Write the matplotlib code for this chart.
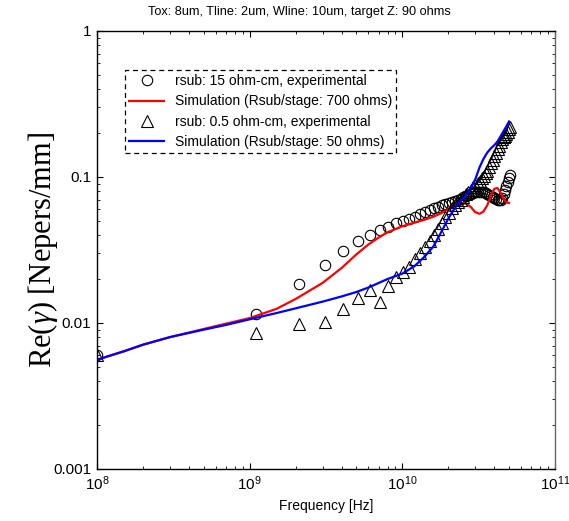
import matplotlib
matplotlib.use("Agg")
import matplotlib.pyplot as plt
from matplotlib.ticker import FixedLocator, FixedFormatter, LogLocator, NullFormatter

# measured points, frequency in GHz
meas_freq_ghz = [0.1, 1.1, 2.1, 3.1, 4.1, 5.1, 6.1, 7.1, 8.1, 9.1,
                 10.1, 11.1, 12.1, 13.1, 14.1, 15.1, 16.1, 17.1, 18.1, 19.1,
                 20.1, 21.1, 22.1, 23.1, 24.1, 25.1, 26.1, 27.1, 28.1, 29.1,
                 30.1, 31.1, 32.1, 33.1, 34.1, 35.1, 36.1, 37.1, 38.1, 39.1,
                 40.1, 41.1, 42.1, 43.1, 44.1, 45.1, 46.1, 47.1, 48.1, 49.1,
                 50.1, 51.1]

rsub15_meas = [0.0060, 0.0115, 0.0184, 0.0251, 0.0310, 0.0365, 0.0401, 0.0434, 0.0457, 0.0482,
               0.0500, 0.0516, 0.0530, 0.0555, 0.0575, 0.0594, 0.0610, 0.0625, 0.0640, 0.0652,
               0.0664, 0.0676, 0.0688, 0.0700, 0.0712, 0.0725, 0.0738, 0.0750, 0.0762, 0.0775,
               0.0785, 0.0790, 0.0795, 0.0795, 0.0790, 0.0782, 0.0770, 0.0755, 0.0740, 0.0728,
               0.0715, 0.0705, 0.0697, 0.0693, 0.0698, 0.0720, 0.0760, 0.0810, 0.0870, 0.0930,
               0.0990, 0.1040]

rsub05_meas = [0.0060, 0.0086, 0.0099, 0.0101, 0.0125, 0.0148, 0.0168, 0.0139, 0.0180, 0.0206,
               0.0225, 0.0243, 0.0275, 0.0300, 0.0330, 0.0365, 0.0400, 0.0440, 0.0485, 0.0530,
               0.0570, 0.0610, 0.0645, 0.0675, 0.0700, 0.0730, 0.0760, 0.0790, 0.0820, 0.0850,
               0.0880, 0.0910, 0.0945, 0.0980, 0.1020, 0.1060, 0.1100, 0.1170, 0.1240, 0.1310,
               0.1400, 0.1470, 0.1550, 0.1640, 0.1730, 0.1820, 0.1880, 0.1920, 0.1970, 0.2040,
               0.2120, 0.2200]

# simulated curves
sim_freq_ghz = [0.1, 0.15, 0.2, 0.3, 0.5, 0.7, 1.0, 1.5, 2.0, 3.0,
                4.0, 5.0, 6.0, 7.0, 8.0, 10, 12, 14, 16, 18,
                20, 22, 24, 26, 28, 30, 32, 34, 36, 38,
                40, 42, 44, 46, 48, 50]

sim_700 = [0.0056, 0.0064, 0.0071, 0.0080, 0.0091, 0.0099, 0.0108, 0.0125, 0.0146, 0.0188,
           0.0238, 0.0295, 0.0345, 0.0385, 0.0418, 0.0460, 0.0487, 0.0510, 0.0535, 0.0565,
           0.0605, 0.0645, 0.0665, 0.0660, 0.0625, 0.0575, 0.0560, 0.0580, 0.0640, 0.0740,
           0.0830, 0.0840, 0.0780, 0.0710, 0.0670, 0.0665]

sim_50 = [0.0056, 0.0064, 0.0071, 0.0080, 0.0090, 0.0097, 0.0106, 0.0117, 0.0126, 0.0140,
          0.0152, 0.0163, 0.0175, 0.0188, 0.0200, 0.0218, 0.0245, 0.0285, 0.0335, 0.0420,
          0.0520, 0.0610, 0.0680, 0.0740, 0.0840, 0.0960, 0.1160, 0.1330, 0.1470, 0.1570,
          0.1650, 0.1750, 0.1900, 0.2060, 0.2220, 0.2400]

y_ticks = [0.001, 0.01, 0.1, 1]
y_tick_labels = ["0.001", "0.01", "0.1", "1"]

plt.rcParams["font.family"] = ["Liberation Sans", "DejaVu Sans"]
plt.rcParams["mathtext.fontset"] = "custom"
plt.rcParams["mathtext.rm"] = "Liberation Sans"
plt.rcParams["mathtext.it"] = "Liberation Serif:italic"


def ghz(vals):
    return [v * 1e9 for v in vals]


fig = plt.figure(figsize=(5.69, 5.21), dpi=100)
ax = fig.add_axes([97 / 569, 52 / 521, 458 / 569, 438 / 521])

ax.plot(ghz(meas_freq_ghz), rsub15_meas, "o", mfc="none", mec="black", mew=0.8, ms=7.5,
        label="rsub: 15 ohm-cm, experimental")
ax.plot(ghz(sim_freq_ghz), sim_700, "-", color="#ff0000", lw=1.6,
        label="Simulation (Rsub/stage: 700 ohms)")
ax.plot(ghz(meas_freq_ghz), rsub05_meas, "^", mfc="none", mec="black", mew=0.8, ms=8,
        label="rsub: 0.5 ohm-cm, experimental")
ax.plot(ghz(sim_freq_ghz), sim_50, "-", color="#0000ff", lw=1.6,
        label="Simulation (Rsub/stage: 50 ohms)")

ax.set_xscale("log")
ax.set_yscale("log")
ax.set_xlim(1e8, 1e11)
ax.set_ylim(1e-3, 1)

ax.yaxis.set_major_locator(FixedLocator(y_ticks))
ax.yaxis.set_major_formatter(FixedFormatter(y_tick_labels))
ax.yaxis.set_minor_locator(LogLocator(base=10, subs=range(2, 10)))
ax.yaxis.set_minor_formatter(NullFormatter())
ax.xaxis.set_minor_locator(LogLocator(base=10, subs=range(2, 10)))
ax.xaxis.set_minor_formatter(NullFormatter())

ax.tick_params(which="both", direction="in", top=True, right=True, labelsize=11, pad=4)
ax.tick_params(which="major", length=4.5)
ax.tick_params(which="minor", length=2.5)
for sp in ax.spines.values():
    sp.set_linewidth(1.0)
ax.spines["right"].set_color("#666666")

ax.set_xlabel("Frequency [Hz]", fontsize=10, labelpad=4)
ax.set_ylabel(r"Re($\gamma$) [Nepers/mm]", fontsize=22, family="Liberation Serif")
ax.yaxis.set_label_coords(-0.08, 0.5)

fig.text(299 / 569, 1 - 12 / 521, "Tox: 8um, Tline: 2um, Wline: 10um, target Z: 90 ohms",
         ha="center", va="center", fontsize=9.2)

leg = ax.legend(loc="upper left", bbox_to_anchor=(28 / 458, 1 - 39 / 438), fontsize=10,
                fancybox=False, edgecolor="black", framealpha=1, borderpad=0.3,
                handlelength=2.5, handletextpad=0.8, labelspacing=0.45, borderaxespad=0)
leg.get_frame().set_linestyle((0, (4, 3)))
leg.get_frame().set_linewidth(0.9)

fig.savefig("out.png", dpi=100)
